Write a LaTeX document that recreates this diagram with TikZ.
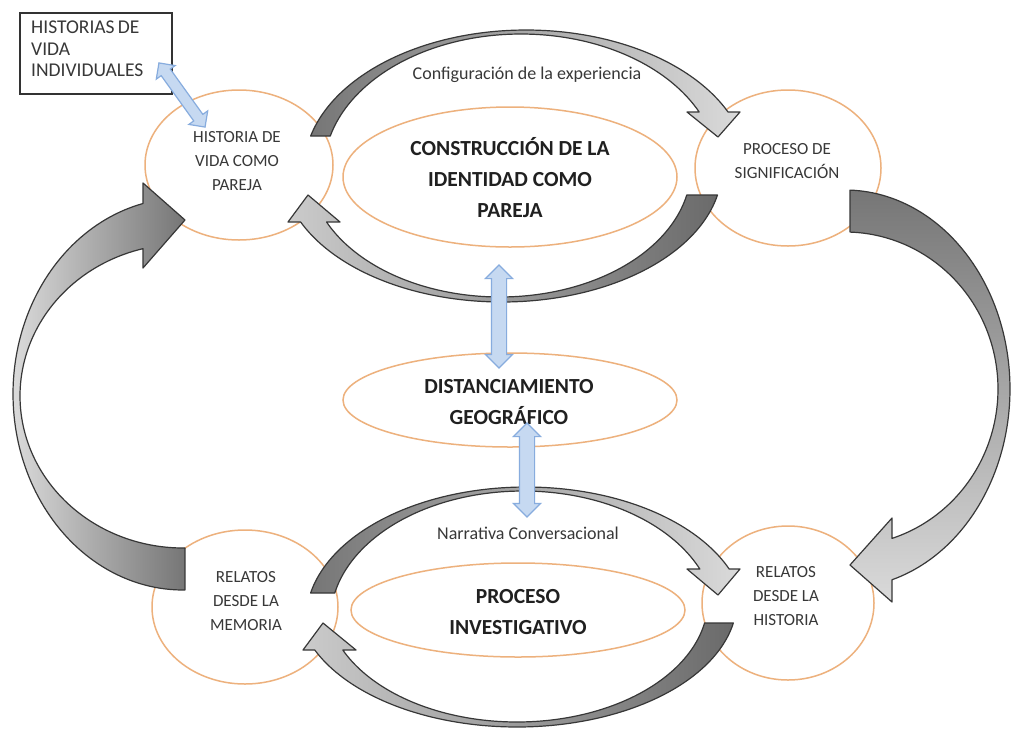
\documentclass[tikz,border=0pt]{standalone}
\usepackage{fontspec}
\setmainfont{Carlito}
\usetikzlibrary{shapes.geometric,shapes.arrows}
\definecolor{orangeline}{RGB}{237,177,125}
\definecolor{txtgray}{RGB}{56,56,56}
\definecolor{txtdark}{RGB}{32,32,32}
\definecolor{edgegray}{RGB}{55,55,55}
\definecolor{shdark}{RGB}{118,118,118}
\definecolor{shlight}{RGB}{218,218,218}
\definecolor{bluefill}{RGB}{198,217,241}
\definecolor{blueline}{RGB}{135,172,222}
\begin{document}
\begin{tikzpicture}[x=1pt,y=-1pt,
  oval/.style={ellipse, draw=orangeline, line width=1.5pt, fill=white, inner sep=0pt},
  smalltext/.style={font=\fontsize{17}{24}\selectfont, text=txtgray, align=center, inner sep=0pt},
  labeltext/.style={font=\fontsize{18}{24}\selectfont, text=txtgray, align=center, inner sep=0pt},
  bigtext/.style={font=\bfseries\fontsize{21.5}{31}\selectfont, text=txtdark, align=center, inner sep=0pt},
  band/.style={draw=edgegray, line width=1.2pt, line join=round},
  bluearrow/.style={double arrow, draw=blueline, fill=bluefill, line width=1.2pt,
     text height=0pt, text depth=0pt, inner xsep=0pt, double arrow tip angle=90, sloped}
]
\useasboundingbox (0,0) rectangle (1012,729);
\fill[white] (0,0) rectangle (1012,729);

% ---- orange ovals ----
\node[oval, minimum width=188pt, minimum height=150pt] (hvp) at (239,165) {};
\node[oval, minimum width=186pt, minimum height=156pt] (sig) at (788,168) {};
\node[oval, minimum width=186pt, minimum height=154pt] (mem) at (245,607) {};
\node[oval, minimum width=172pt, minimum height=154pt] (his) at (788,603) {};
\node[oval, minimum width=334pt, minimum height=140pt] (cons) at (510,177) {};
\node[oval, minimum width=334pt, minimum height=94pt] (dist) at (510,400) {};
\node[oval, minimum width=334pt, minimum height=94pt] (inv) at (518,610) {};

% ---- box ----
\node[draw=black!80, line width=1.2pt, minimum width=152pt, minimum height=81pt, inner sep=0pt] (box) at (96,53.5) {};
\node[font=\fontsize{19.5}{21.5}\selectfont, text=txtgray, align=left, anchor=north west, inner sep=0pt] (boxtxt) at (31,21) {HISTORIAS\,DE\\VIDA\\INDIVIDUALES};

% ---- texts ----
\node[smalltext] (thvp) at (237,161) {HISTORIA DE\\VIDA COMO\\PAREJA};
\node[smalltext] (tsig) at (787,161) {PROCESO DE\\SIGNIFICACIÓN};
\node[smalltext] (tmem) at (246,601) {RELATOS\\DESDE LA\\MEMORIA};
\node[smalltext] (this) at (786,596) {RELATOS\\DESDE LA\\HISTORIA};
\node[bigtext] (tcons) at (510,178) {CONSTRUCCIÓN DE LA\\IDENTIDAD COMO\\PAREJA};
\node[bigtext] (tdist) at (509,402) {DISTANCIAMIENTO\\GEOGRÁFICO};
\node[bigtext] (tinv) at (518,612) {PROCESO\\INVESTIGATIVO};
\node[labeltext] (lconf) at (527,75) {Configuración de la experiencia};
\node[labeltext] (lnarr) at (528,533) {Narrativa Conversacional};

% ---- curved arrows ----
% A: upper ring, top
\pgfmathsetmacro{\Aot}{180-asin((136-170)/140)}
\pgfmathsetmacro{\Aob}{360+asin((112-170)/140)}
\pgfmathsetmacro{\Ait}{180-asin((136-170)/136)}
\pgfmathsetmacro{\Aib}{360+asin((112-170)/136)}
\shadedraw[band, left color=shdark, right color=shlight]
  plot[domain=\Aot:\Aob, samples=90, variable=\t] ({526+222*cos(\t)},{170+140*sin(\t)})
  -- (740,112) -- (718,137) -- (687,112)
  -- plot[domain=\Aib:\Ait, samples=90, variable=\t] ({521+197*cos(\t)},{170+136*sin(\t)})
  -- cycle;
% B: upper ring, bottom
\pgfmathsetmacro{\Bot}{asin((195-168)/134)}
\pgfmathsetmacro{\Bob}{180-asin((222-168)/134)}
\pgfmathsetmacro{\Bit}{asin((195-168)/129)}
\pgfmathsetmacro{\Bib}{180-asin((222-168)/129)}
\shadedraw[band, left color=shlight!85!shdark, right color=shdark!90!black]
  plot[domain=\Bot:\Bob, samples=90, variable=\t] ({502+220*cos(\t)},{168+134*sin(\t)})
  -- (288,222) -- (308,195) -- (340,222)
  -- plot[domain=\Bib:\Bit, samples=90, variable=\t] ({500+191*cos(\t)},{168+129*sin(\t)})
  -- cycle;
% C: lower ring, top
\pgfmathsetmacro{\Cot}{180-asin((593-620)/133)}
\pgfmathsetmacro{\Cob}{360+asin((569-620)/133)}
\pgfmathsetmacro{\Cit}{180-asin((593-620)/129)}
\pgfmathsetmacro{\Cib}{360+asin((569-620)/129)}
\shadedraw[band, left color=shdark, right color=shlight]
  plot[domain=\Cot:\Cob, samples=90, variable=\t] ({526+220*cos(\t)},{620+133*sin(\t)})
  -- (740,569) -- (718,595) -- (687,569)
  -- plot[domain=\Cib:\Cit, samples=90, variable=\t] ({523+192.5*cos(\t)},{620+129*sin(\t)})
  -- cycle;
% D: lower ring, bottom
\pgfmathsetmacro{\Dot}{asin((623-600)/127)}
\pgfmathsetmacro{\Dob}{180-asin((650-600)/127)}
\pgfmathsetmacro{\Dit}{asin((623-600)/122)}
\pgfmathsetmacro{\Dib}{180-asin((650-600)/122)}
\shadedraw[band, left color=shlight!85!shdark, right color=shdark!90!black]
  plot[domain=\Dot:\Dob, samples=90, variable=\t] ({517+220*cos(\t)},{600+127*sin(\t)})
  -- (303,650) -- (323,623) -- (356,650)
  -- plot[domain=\Dib:\Dit, samples=90, variable=\t] ({517+191*cos(\t)},{600+122*sin(\t)})
  -- cycle;
% E: right big arrow
\pgfmathsetmacro{\Eot}{360-acos(5/165)}
\pgfmathsetmacro{\Eob}{360+acos(47/165)}
\pgfmathsetmacro{\Eit}{360-acos(5/153)}
\pgfmathsetmacro{\Eib}{360+acos(47/153)}
\shadedraw[band, top color=shdark, bottom color=shlight]
  plot[domain=\Eot:\Eob, samples=100, variable=\t] ({845+165*cos(\t)},{389+199*sin(\t)})
  -- (892,602) -- (850,565) -- (892,518)
  -- plot[domain=\Eib:\Eit, samples=100, variable=\t] ({845+153*cos(\t)},{389+157*sin(\t)})
  -- cycle;
% F: left big arrow
\pgfmathsetmacro{\Fot}{acos(2/170)}
\pgfmathsetmacro{\Fob}{360-acos(-40/170)}
\pgfmathsetmacro{\Fit}{acos(2/163)}
\pgfmathsetmacro{\Fib}{360-acos(-40/163)}
\shadedraw[band, left color=shlight, right color=shdark]
  plot[domain=\Fot:\Fob, samples=100, variable=\t] ({183+170*cos(\t)},{394+196*sin(\t)})
  -- (143,183) -- (185,220) -- (143,268)
  -- plot[domain=\Fib:\Fit, samples=100, variable=\t] ({183+163*cos(\t)},{396+152*sin(\t)})
  -- cycle;

% ---- blue double arrows ----
\coordinate (b1a) at (159,63);
\coordinate (b1b) at (205,127);
\coordinate (b2a) at (499,265);
\coordinate (b2b) at (499,368);
\coordinate (b3a) at (527,423);
\coordinate (b3b) at (527,517);
\path (b1a) -- (b1b) node[midway, bluearrow, minimum height=79pt, inner ysep=5pt, double arrow head extend=6pt] (ba1) {};
\path (b2a) -- (b2b) node[midway, bluearrow, minimum height=103pt, inner ysep=7pt, double arrow head extend=6pt] (ba2) {};
\path (b3a) -- (b3b) node[midway, bluearrow, minimum height=94pt, inner ysep=7pt, double arrow head extend=6pt] (ba3) {};
\end{tikzpicture}
\end{document}
